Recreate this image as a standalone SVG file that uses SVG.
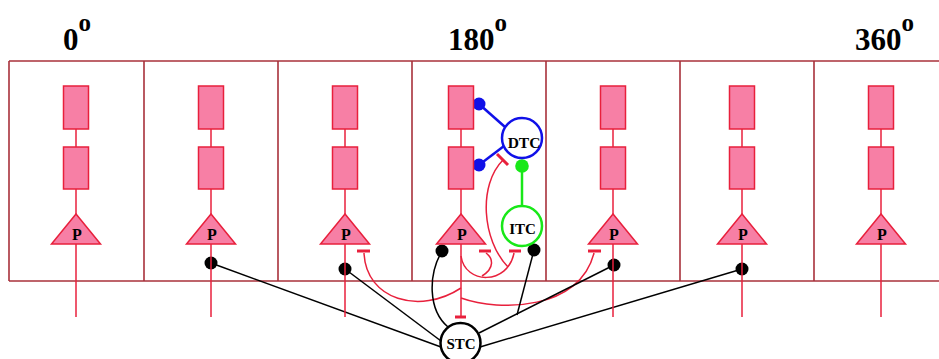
<svg xmlns="http://www.w3.org/2000/svg" width="939" height="359" viewBox="0 0 939 359">
<defs>
<style>
.frame{stroke:#a8303a;stroke-width:1.6;fill:none}
.stem{stroke:#e8203c;stroke-width:1.5;fill:none}
.cell{fill:#f77fa5;stroke:#e8203c;stroke-width:1.5}
.inh{stroke:#e8203c;stroke-width:1.5;fill:none}
.bar{stroke:#e8203c;stroke-width:3;fill:none}
.exc{stroke:#000;stroke-width:1.5;fill:none}
.dot{fill:#000}
.lbl{font-family:"Liberation Serif",serif;font-weight:bold;fill:#000;text-anchor:middle}
.p{font-size:16px}
.title{font-family:"Liberation Serif",serif;font-weight:bold;font-size:31px;fill:#000}
.sup{font-size:25px}
</style>
</defs>
<rect width="939" height="359" fill="#fff"/>
<g id="frame">
<line class="frame" x1="9" y1="61" x2="939" y2="61"/>
<line class="frame" x1="9" y1="281" x2="939" y2="281"/>
<line class="frame" x1="9" y1="61" x2="9" y2="281"/>
<line class="frame" x1="144" y1="61" x2="144" y2="281"/>
<line class="frame" x1="278" y1="61" x2="278" y2="281"/>
<line class="frame" x1="412" y1="61" x2="412" y2="281"/>
<line class="frame" x1="546" y1="61" x2="546" y2="281"/>
<line class="frame" x1="680" y1="61" x2="680" y2="281"/>
<line class="frame" x1="814" y1="61" x2="814" y2="281"/>
</g>
<g id="titles">
<text class="title" x="63" y="50">0<tspan class="sup" dy="-19.5">o</tspan></text>
<text class="title" x="448" y="50">180<tspan class="sup" dy="-19.5">o</tspan></text>
<text class="title" x="855" y="50">360<tspan class="sup" dy="-19.5">o</tspan></text>
</g>
<g id="connectors">
<path class="inh" d="M461,288 C420,315 366,300 364,253"/>
<line class="bar" x1="357" y1="251" x2="370" y2="251"/>
<path class="inh" d="M461,298 C500,312 580,310 594,253"/>
<line class="bar" x1="588" y1="251" x2="601" y2="251"/>
<path class="inh" d="M461,256 C465,285 508,285 514,253"/>
<line class="bar" x1="509" y1="251" x2="521" y2="251"/>
<path class="inh" d="M482,276 C495,268 493,258 486,253"/>
<line class="bar" x1="479" y1="251" x2="491" y2="251"/>
<path class="inh" d="M508,267 C482,240 478,185 503,160"/>
<line class="bar" x1="497" y1="154" x2="508" y2="165"/>
<line class="bar" x1="455" y1="317" x2="466" y2="317"/>
<line class="exc" x1="211" y1="263" x2="441" y2="347"/>
<line class="exc" x1="345" y1="269" x2="441" y2="341"/>
<line class="exc" x1="614" y1="265" x2="479" y2="333"/>
<line class="exc" x1="742" y1="269" x2="480" y2="347"/>
<line class="exc" x1="534" y1="250" x2="517" y2="315"/>
<path class="exc" d="M442,251 C428,275 428,310 448,327"/>
<circle class="dot" cx="211" cy="263" r="6.5"/>
<circle class="dot" cx="345" cy="269" r="6.5"/>
<circle class="dot" cx="442" cy="251" r="6.5"/>
<circle class="dot" cx="534" cy="250" r="6.5"/>
<circle class="dot" cx="614" cy="265" r="6.5"/>
<circle class="dot" cx="742" cy="269" r="6.5"/>
<line stroke="#1010e8" stroke-width="2.5" x1="479" y1="104" x2="505" y2="127"/>
<line stroke="#1010e8" stroke-width="2.5" x1="479" y1="165" x2="504" y2="146"/>
<circle fill="#1010e8" cx="479" cy="104" r="6.5"/>
<circle fill="#1010e8" cx="479" cy="165" r="6.5"/>
<line stroke="#18e818" stroke-width="2.5" x1="522" y1="166" x2="522" y2="206"/>
<circle fill="#18e818" cx="522" cy="166" r="6.8"/>
</g>
<g id="col1">
<line class="stem" x1="76" y1="128" x2="76" y2="317"/>
<rect class="cell" x="63.5" y="86" width="25" height="43"/>
<rect class="cell" x="63.5" y="147" width="25" height="42"/>
<polygon class="cell" points="76,214 51.5,244 100.5,244"/>
<text class="lbl p" x="77" y="239.5">P</text>
</g>
<g id="col2">
<line class="stem" x1="211" y1="128" x2="211" y2="317"/>
<rect class="cell" x="198.5" y="86" width="25" height="43"/>
<rect class="cell" x="198.5" y="147" width="25" height="42"/>
<polygon class="cell" points="211,214 186.5,244 235.5,244"/>
<text class="lbl p" x="212" y="239.5">P</text>
</g>
<g id="col3">
<line class="stem" x1="345" y1="128" x2="345" y2="317"/>
<rect class="cell" x="332.5" y="86" width="25" height="43"/>
<rect class="cell" x="332.5" y="147" width="25" height="42"/>
<polygon class="cell" points="345,214 320.5,244 369.5,244"/>
<text class="lbl p" x="346" y="239.5">P</text>
</g>
<g id="col4">
<line class="stem" x1="461" y1="128" x2="461" y2="317"/>
<rect class="cell" x="448.5" y="86" width="25" height="43"/>
<rect class="cell" x="448.5" y="147" width="25" height="42"/>
<polygon class="cell" points="461,214 436.5,244 485.5,244"/>
<text class="lbl p" x="462" y="239.5">P</text>
</g>
<g id="col5">
<line class="stem" x1="613" y1="128" x2="613" y2="317"/>
<rect class="cell" x="600.5" y="86" width="25" height="43"/>
<rect class="cell" x="600.5" y="147" width="25" height="42"/>
<polygon class="cell" points="613,214 588.5,244 637.5,244"/>
<text class="lbl p" x="614" y="239.5">P</text>
</g>
<g id="col6">
<line class="stem" x1="742" y1="128" x2="742" y2="317"/>
<rect class="cell" x="729.5" y="86" width="25" height="43"/>
<rect class="cell" x="729.5" y="147" width="25" height="42"/>
<polygon class="cell" points="742,214 717.5,244 766.5,244"/>
<text class="lbl p" x="743" y="239.5">P</text>
</g>
<g id="col7">
<line class="stem" x1="881" y1="128" x2="881" y2="317"/>
<rect class="cell" x="868.5" y="86" width="25" height="43"/>
<rect class="cell" x="868.5" y="147" width="25" height="42"/>
<polygon class="cell" points="881,214 856.5,244 905.5,244"/>
<text class="lbl p" x="882" y="239.5">P</text>
</g>
<g id="DTC">
<circle cx="522" cy="138" r="20" fill="#fff" stroke="#1010e8" stroke-width="2.5"/>
<text class="lbl" x="524" y="147.5" font-size="15.5">DTC</text>
</g>
<g id="ITC">
<circle cx="522" cy="226" r="20" fill="#fff" stroke="#18e818" stroke-width="2.5"/>
<text class="lbl" x="522.5" y="234" font-size="15">ITC</text>
</g>
<g id="STC">
<circle cx="460.5" cy="343" r="20" fill="#fff" stroke="#000" stroke-width="2.5"/>
<text class="lbl" x="461" y="348.5" font-size="15">STC</text>
</g>
</svg>
